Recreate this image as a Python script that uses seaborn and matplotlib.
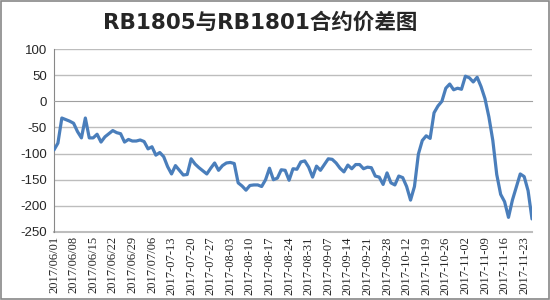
import numpy as np
import pandas as pd
import matplotlib
matplotlib.use("Agg")
import matplotlib.pyplot as plt
import seaborn as sns

# trading days (weekdays minus National Day holiday)
holidays = ["2017-10-02", "2017-10-03", "2017-10-04", "2017-10-05", "2017-10-06"]
all_days = pd.bdate_range("2017-06-01", "2017-11-27")
dates = [d for d in all_days if d.strftime("%Y-%m-%d") not in holidays]

spread = [
    -93, -80, -32, -35, -38, -42, -58, -70, -32, -70,
    -70, -63, -78, -68, -62, -56, -60, -62, -78, -73,
    -76, -76, -74, -77, -91, -87, -103, -98, -106, -125,
    -139, -123, -132, -141, -140, -110, -120, -127, -133, -139,
    -128, -118, -132, -123, -118, -117, -119, -156, -162, -170,
    -161, -160, -160, -163, -150, -128, -150, -147, -131, -132,
    -151, -129, -130, -116, -114, -126, -145, -124, -132, -121,
    -110, -111, -118, -128, -135, -122, -129, -121, -121, -129,
    -126, -127, -143, -145, -159, -137, -156, -160, -143, -146,
    -163, -189, -163, -101, -75, -66, -71, -22, -9, 0,
    25, 33, 22, 25, 23, 48, 45, 37, 46, 28,
    5, -30, -75, -140, -178, -192, -222, -189, -164, -139,
    -144, -171, -225,
]

tick_labels = [
    "2017/06/01", "2017/06/08", "2017/06/15", "2017/06/22", "2017/06/29", "2017/07/06",
    "2017-07-13", "2017-07-20", "2017-07-27", "2017-08-03", "2017-08-10", "2017-08-17",
    "2017-08-24", "2017-08-31", "2017-09-07", "2017-09-14", "2017-09-21", "2017-09-28",
    "2017-10-12", "2017-10-19", "2017-10-26", "2017-11-02", "2017-11-09", "2017-11-16",
    "2017-11-23",
]
y_ticks = [100, 50, 0, -50, -100, -150, -200, -250]

n = min(len(dates), len(spread))
df = pd.DataFrame({"idx": np.arange(n), "spread": spread[:n]})

sns.set_style("white")
plt.rcParams["font.family"] = ["Noto Sans CJK SC", "DejaVu Sans"]

fig = plt.figure(figsize=(5.5, 3.0), dpi=100)
ax = fig.add_axes([54 / 550, 1 - 232 / 300, (532 - 54) / 550, (232 - 49) / 300])

ax.grid(False)
for v in y_ticks:
    if v != 0:
        ax.axhline(v, color="#BDBDBD", lw=1.0, zorder=0)

sns.lineplot(data=df, x="idx", y="spread", ax=ax, color="#4A7EBB", lw=2.3, zorder=3)

ax.set_xlim(0, n - 1)
ax.set_ylim(-250, 100)
ax.set_yticks(y_ticks)
ax.set_yticklabels([str(v) for v in y_ticks], fontsize=9.5, family="Liberation Sans")
ax.tick_params(axis="y", length=3, color="#888888", pad=2)
ax.set_xlabel("")
ax.set_ylabel("")

# category axis crossing at zero with tick marks at every category
ax.spines["bottom"].set_position(("data", 0))
ax.spines["bottom"].set_color("#A0A0A0")
ax.set_xticks(np.arange(n))
ax.tick_params(axis="x", length=3, color="#A0A0A0", direction="out", labelbottom=False)
ax.spines["left"].set_color("#888888")
ax.spines["right"].set_visible(False)
ax.spines["top"].set_visible(False)

sec = ax.secondary_xaxis("bottom")
sec.set_xticks(np.arange(0, n, 5)[:len(tick_labels)])
sec.set_xticklabels(tick_labels, rotation=90, fontsize=9, family="Liberation Serif")
sec.tick_params(length=0, pad=3)
sec.spines["bottom"].set_color("#BDBDBD")
sec.spines["bottom"].set_linewidth(1.5)

fig.text(0.473, 0.925, "RB1805与RB1801合约价差图", ha="center", va="center",
         fontsize=15.5, fontweight="bold", family=["DejaVu Sans", "Noto Sans CJK SC"])

fig.patches.append(plt.Rectangle((0.001, 0.002), 0.997, 0.995, transform=fig.transFigure,
                                 fill=False, edgecolor="#888888", lw=1.2))

fig.savefig("out.png", dpi=100)
